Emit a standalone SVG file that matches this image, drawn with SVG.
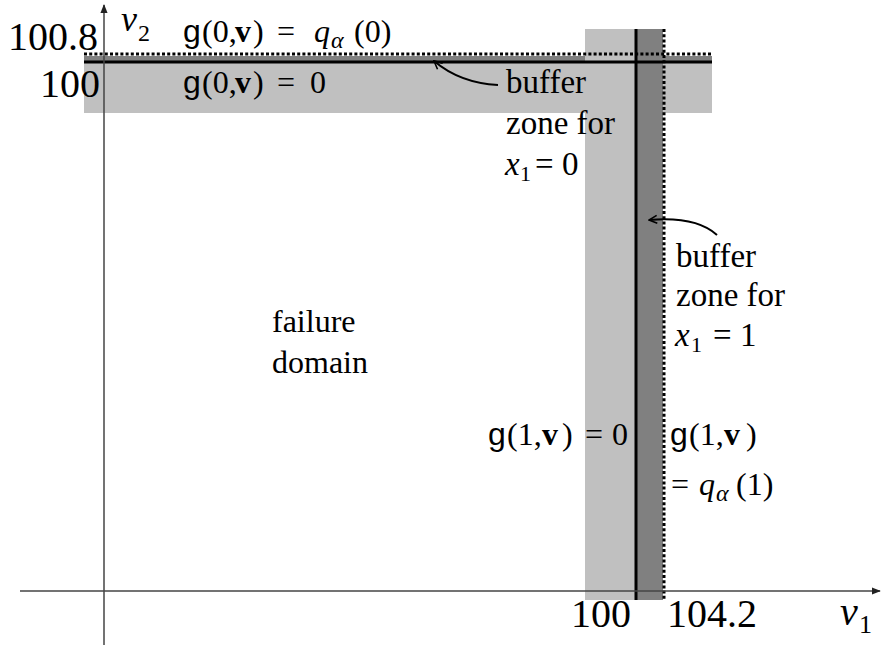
<svg xmlns="http://www.w3.org/2000/svg" width="882" height="648" viewBox="0 0 882 648">
<defs>
<style>
text{font-family:"Liberation Serif","DejaVu Serif","Noto Serif",serif;fill:#000}
text.s{font-family:"Liberation Sans","DejaVu Sans",sans-serif}
.b{font-weight:bold}
.i{font-style:italic}
.axis{stroke:#444;stroke-width:1.5;fill:none}
.solid{stroke:#000;stroke-width:3;fill:none}
.dot{stroke:#000;stroke-width:3;stroke-dasharray:3 2.2;fill:none}
.conn{stroke:#000;stroke-width:2;fill:none}
</style>
<marker id="open" viewBox="0 0 10 10" refX="9" refY="5" markerWidth="10" markerHeight="10" markerUnits="userSpaceOnUse" orient="auto">
<path d="M1,1 L9,5 L1,9" fill="none" stroke="#000" stroke-width="1.6"/>
</marker>
<marker id="axarr" viewBox="0 0 10 10" refX="9" refY="5" markerWidth="9" markerHeight="9" markerUnits="userSpaceOnUse" orient="auto">
<path d="M0,1 L10,5 L0,9 Z" fill="#222"/>
</marker>
</defs>
<rect width="882" height="648" fill="#fff"/>
<g id="bands">
<rect x="84" y="62" width="628" height="51" fill="#c0c0c0"/>
<rect x="84" y="56" width="628" height="6" fill="#808080"/>
<rect x="585" y="29" width="51" height="571" fill="#c0c0c0"/>
<rect x="636" y="29" width="27" height="571" fill="#808080"/>
</g>
<g id="limit-lines">
<line class="dot" x1="84" y1="54" x2="712" y2="54"/>
<line class="solid" x1="84" y1="62" x2="712" y2="62"/>
<line class="solid" x1="636" y1="29" x2="636" y2="600"/>
<line class="dot" x1="664" y1="29" x2="664" y2="600"/>
</g>
<g id="axes">
<line class="axis" x1="104" y1="645" x2="104" y2="5" marker-end="url(#axarr)"/>
<line class="axis" x1="20" y1="591" x2="880" y2="591" marker-end="url(#axarr)"/>
</g>
<g id="connectors">
<path class="conn" d="M498,85 Q460,83 434,61" marker-end="url(#open)"/>
<path class="conn" d="M717,235 Q696,216 649,220" marker-end="url(#open)"/>
</g>
<g id="axis-labels">
<text x="8" y="50" font-size="40">100.8</text>
<text x="40" y="97" font-size="40">100</text>
<text x="571" y="627" font-size="40">100</text>
<text x="667" y="627" font-size="40">104.2</text>
<text x="121" y="31" class="i" font-size="36">v</text>
<text x="138" y="41" font-size="24">2</text>
<text x="840" y="625" class="i" font-size="40">v</text>
<text x="859" y="633" font-size="26">1</text>
</g>
<g id="label-g0-q">
<text class="s" x="183" y="42" font-size="32">g</text>
<text y="42" font-size="32"><tspan x="202">(0,</tspan><tspan x="235" class="b">v</tspan><tspan x="253">)</tspan><tspan x="277">=</tspan><tspan x="314" class="i">q</tspan></text>
<text class="i" x="331" y="48" font-size="24">α</text>
<text x="354" y="42" font-size="32">(0)</text>
</g>
<g id="label-g0-0">
<text class="s" x="183" y="93" font-size="32">g</text>
<text y="93" font-size="32"><tspan x="202">(0,</tspan><tspan x="235" class="b">v</tspan><tspan x="253">)</tspan><tspan x="277">=</tspan><tspan x="310">0</tspan></text>
</g>
<g id="label-buffer0">
<text x="506" y="93" font-size="33">buffer</text>
<text x="506" y="134" font-size="33">zone for</text>
<text x="505" y="175" class="i" font-size="33">x</text>
<text x="520" y="181" font-size="22">1</text>
<text x="535" y="175" font-size="33">=</text>
<text x="562" y="175" font-size="33">0</text>
</g>
<g id="label-buffer1">
<text x="676" y="267" font-size="33">buffer</text>
<text x="676" y="306" font-size="33">zone for</text>
<text x="675" y="346" class="i" font-size="33">x</text>
<text x="691" y="352" font-size="22">1</text>
<text x="713" y="346" font-size="33">=</text>
<text x="740" y="346" font-size="33">1</text>
</g>
<g id="label-failure">
<text x="272" y="332" font-size="32">failure</text>
<text x="272" y="373" font-size="32">domain</text>
</g>
<g id="label-g1-0">
<text class="s" x="488" y="445" font-size="32">g</text>
<text y="445" font-size="32"><tspan x="507">(1,</tspan><tspan x="542" class="b">v</tspan><tspan x="562">)</tspan><tspan x="585">=</tspan><tspan x="612">0</tspan></text>
</g>
<g id="label-g1-q">
<text class="s" x="670" y="445" font-size="32">g</text>
<text y="445" font-size="32"><tspan x="689">(1,</tspan><tspan x="724" class="b">v</tspan><tspan x="746">)</tspan></text>
<text y="495" font-size="32"><tspan x="671">=</tspan><tspan x="699" class="i">q</tspan></text>
<text class="i" x="716" y="501" font-size="24">α</text>
<text x="736" y="495" font-size="32">(1)</text>
</g>
</svg>
